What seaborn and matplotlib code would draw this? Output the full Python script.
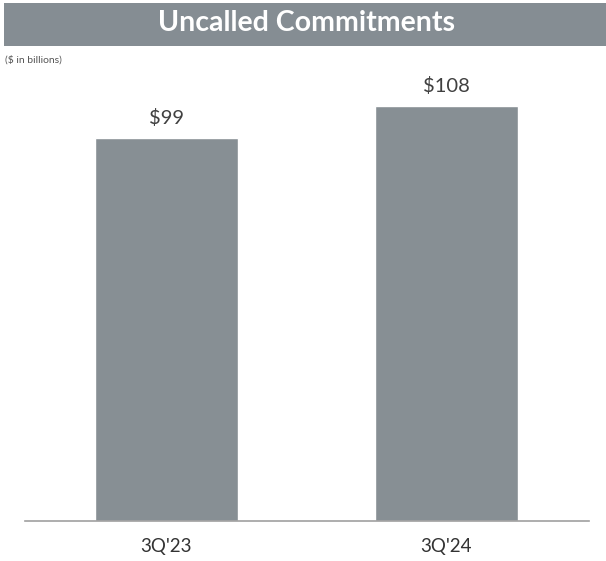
import matplotlib
matplotlib.use("Agg")
import matplotlib.pyplot as plt
import matplotlib.patches as mpatches
import pandas as pd
import seaborn as sns

# 데이터
quarters = ["3Q'23", "3Q'24"]
values = [99.6, 108]
value_labels = ["$99", "$108"]

sns.set_style("white")
plt.rcParams["font.family"] = ["Lato", "DejaVu Sans"]

df = pd.DataFrame({"quarter": quarters, "value": values})

fig = plt.figure(figsize=(6.06, 5.61), dpi=100)
W, H = 606, 561

# 제목 배너
fig.patches.append(
    mpatches.Rectangle((4 / W, 1 - 46 / H), 602 / W, 43 / H,
                       transform=fig.transFigure, facecolor="#858d93",
                       edgecolor="none", zorder=0)
)
fig.text(307 / W, 1 - 23 / H, "Uncalled Commitments", ha="center", va="center",
         color="white", fontsize=20.5, fontweight="bold")
fig.text(5 / W, 1 - 60 / H, "($ in billions)", ha="left", va="center",
         color="#555555", fontsize=7.5)

ax = fig.add_axes([25 / W, 1 - 521 / H, 564 / W, 415 / H])
sns.barplot(data=df, x="quarter", y="value", color="#878f94", width=0.51,
            saturation=1, ax=ax)

ax.set_xlim(-0.505, 1.509)
ax.set_ylim(0, 108)
ax.set_xlabel("")
ax.set_ylabel("")
ax.set_yticks([])
for s in ["top", "right", "left"]:
    ax.spines[s].set_visible(False)
ax.spines["bottom"].set_color("#a0a0a0")
ax.spines["bottom"].set_linewidth(1.2)
ax.tick_params(axis="x", length=0, labelsize=13.5, labelcolor="#333333", pad=12)
ax.patch.set_alpha(0)

for i, (v, lab) in enumerate(zip(values, value_labels)):
    ax.annotate(lab, (i, v), xytext=(0, 8), textcoords="offset points",
                ha="center", va="bottom", fontsize=14.5, color="#404040",
                annotation_clip=False)

fig.savefig("out.png", dpi=100)
